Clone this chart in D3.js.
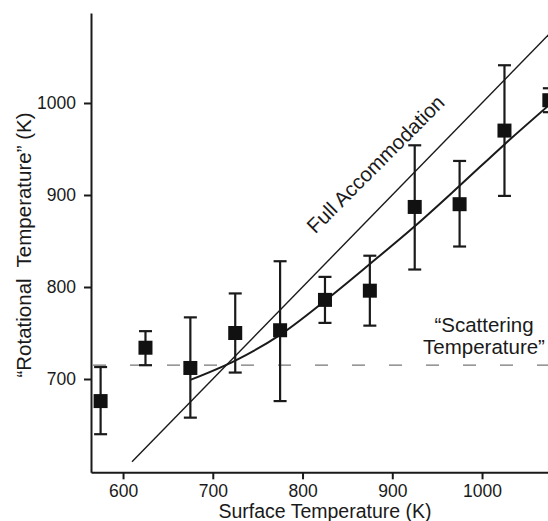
<!DOCTYPE html>
<html>
<head>
	<meta http-equiv="Content-Type" content="text/html;charset=utf-8"/>
	<title>Rotational vs Surface Temperature</title>
	<script src="https://d3js.org/d3.v7.min.js"></script>
	<style type="text/css">
		body { margin: 0; background: #fff; }
		svg { display: block; }
		text {
			font-family: "Liberation Sans", Arial, Helvetica, sans-serif;
			fill: #1a1a1a;
			white-space: pre;
		}
		.axis path, .axis line {
			stroke: #1a1a1a;
			stroke-width: 2;
		}
		.errbar {
			stroke: #1a1a1a;
			stroke-width: 2.2;
		}
		.marker {
			fill: #111;
		}
	</style>
</head>
<body>
	<svg width="548" height="521"></svg>

<script type="text/javascript">
// data (all in K)
const surfaceTemp = [575, 625, 675, 725, 775, 825, 875, 925, 975, 1025, 1075];
const rotTemp     = [676, 734, 712, 750, 753, 786, 796, 887, 890, 970, 1003];
const errLow      = [640, 715, 658, 707, 676, 761, 758, 819, 844, 899, 990];
const errHigh     = [713, 752, 767, 793, 828, 811, 834, 954, 937, 1041, 1016];

// fitted curve, read at the marker positions
const fitX = [675, 725, 775, 825, 875, 925, 975, 1025, 1075];
const fitY = [699, 720, 748, 785, 825, 866, 910, 955, 998];

// full accommodation line (T_rot = T_surface)
const accomX = [610, 1080];
const scatterTemp = 715;

const xTicks = [600, 700, 800, 900, 1000];
const yTicks = [700, 800, 900, 1000];

const svg = d3.select("svg");

const x = d3.scaleLinear().domain([564.3, 1073.5]).range([91, 548]);
const y = d3.scaleLinear().domain([598.6, 1097.8]).range([472.3, 13]);

// axes
svg.append("g")
	.attr("class", "axis")
	.attr("transform", "translate(0," + y.range()[0] + ")")
	.call(d3.axisBottom(x).tickValues(xTicks).tickFormat(d3.format("d"))
		.tickSize(7).tickSizeOuter(0).tickPadding(5))
	.call(g => g.selectAll("text").attr("font-size", 17.5).attr("fill", "#1a1a1a"));

svg.append("g")
	.attr("class", "axis")
	.attr("transform", "translate(" + x.range()[0] + ",0)")
	.call(d3.axisLeft(y).tickValues(yTicks).tickFormat(d3.format("d"))
		.tickSize(7).tickSizeOuter(0).tickPadding(8))
	.call(g => g.selectAll("text").attr("font-size", 17.5).attr("fill", "#1a1a1a"));

svg.selectAll(".axis text").attr("font-family", null);

// axis titles
svg.append("text")
	.attr("x", 325)
	.attr("y", 518)
	.attr("text-anchor", "middle")
	.attr("font-size", 19.5)
	.text("Surface Temperature (K)");

svg.append("text")
	.attr("transform", "translate(31,245) rotate(-90)")
	.attr("text-anchor", "middle")
	.attr("font-size", 20.5)
	.text("\u201cRotational  Temperature\u201d (K)");

// scattering temperature (dashed)
svg.append("line")
	.attr("x1", x.range()[0] + 2)
	.attr("x2", 548)
	.attr("y1", y(scatterTemp))
	.attr("y2", y(scatterTemp))
	.attr("stroke", "#777")
	.attr("stroke-width", 1.3)
	.attr("stroke-dasharray", "13,24");

svg.append("text")
	.attr("x", 484)
	.attr("y", 331.5)
	.attr("text-anchor", "middle")
	.attr("font-size", 20.5)
	.text("\u201cScattering");
svg.append("text")
	.attr("x", 484)
	.attr("y", 354)
	.attr("text-anchor", "middle")
	.attr("font-size", 20.5)
	.text("Temperature\u201d");

// full accommodation line
svg.append("line")
	.attr("x1", x(accomX[0]))
	.attr("y1", y(accomX[0]))
	.attr("x2", x(accomX[1]))
	.attr("y2", y(accomX[1]))
	.attr("stroke", "#1a1a1a")
	.attr("stroke-width", 1.4);

svg.append("text")
	.attr("transform", "translate(" + x(887) + "," + y(928) + ") rotate(-45)")
	.attr("text-anchor", "middle")
	.attr("font-size", 20.5)
	.text("Full Accommodation");

// fitted curve
const fitLine = d3.line()
	.x(d => x(d[0]))
	.y(d => y(d[1]))
	.curve(d3.curveMonotoneX);

svg.append("path")
	.datum(d3.zip(fitX, fitY))
	.attr("d", fitLine)
	.attr("fill", "none")
	.attr("stroke", "#1a1a1a")
	.attr("stroke-width", 2);

// error bars and markers
const pts = surfaceTemp.map((t, i) => ({t: t, r: rotTemp[i], lo: errLow[i], hi: errHigh[i]}));
const capW = 13;
const box = 14;

const bars = svg.selectAll(".pt")
	.data(pts)
	.enter().append("g")
	.attr("class", "pt");

bars.append("line")
	.attr("class", "errbar")
	.attr("x1", d => x(d.t)).attr("x2", d => x(d.t))
	.attr("y1", d => y(d.lo)).attr("y2", d => y(d.hi));

bars.append("line")
	.attr("class", "errbar")
	.attr("x1", d => x(d.t) - capW / 2).attr("x2", d => x(d.t) + capW / 2)
	.attr("y1", d => y(d.hi)).attr("y2", d => y(d.hi));

bars.append("line")
	.attr("class", "errbar")
	.attr("x1", d => x(d.t) - capW / 2).attr("x2", d => x(d.t) + capW / 2)
	.attr("y1", d => y(d.lo)).attr("y2", d => y(d.lo));

bars.append("rect")
	.attr("class", "marker")
	.attr("x", d => x(d.t) - box / 2)
	.attr("y", d => y(d.r) - box / 2)
	.attr("width", box)
	.attr("height", box);
</script>
</body>
</html>
